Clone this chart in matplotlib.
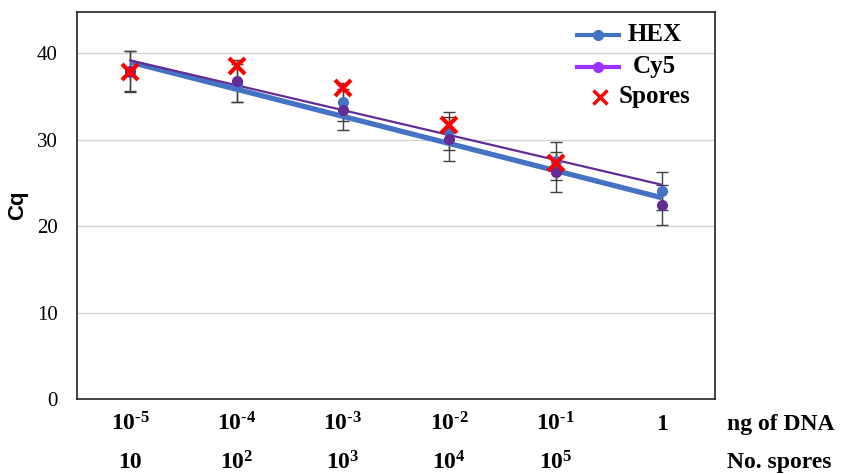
import matplotlib.pyplot as plt
from matplotlib.lines import Line2D

# data
x_pos = [1, 2, 3, 4, 5, 6]
dna_labels = [r'10$^{\text{-5}}$', r'10$^{\text{-4}}$', r'10$^{\text{-3}}$',
              r'10$^{\text{-2}}$', r'10$^{\text{-1}}$', '1']
spore_labels = ['10', '10$^{2}$', '10$^{3}$', '10$^{4}$', '10$^{5}$', '']

hex_cq = [37.9, 36.6, 34.4, 31.0, 27.5, 24.1]
hex_err = [2.4, 2.2, 2.2, 2.2, 2.2, 2.2]
cy5_cq = [38.0, 36.8, 33.5, 30.1, 26.3, 22.5]
cy5_err = [2.3, 2.4, 2.4, 2.6, 2.3, 2.3]
spores_x = [1, 2, 3, 4, 5]
spores_cq = [37.9, 38.5, 36.0, 31.7, 27.3]

# trend lines (end points)
trend_x = [1, 6]
hex_trend = [39.0, 23.3]
cy5_trend = [39.2, 24.8]

legend_names = ['HEX', 'Cy5', 'Spores']

hex_color = '#4472C4'
cy5_color = '#632C96'
cy5_legend = '#9B30FF'

plt.rcParams['font.family'] = ['Liberation Serif', 'DejaVu Serif']
plt.rcParams['mathtext.fontset'] = 'custom'
plt.rcParams['mathtext.rm'] = 'Liberation Serif:bold'
plt.rcParams['mathtext.it'] = 'Liberation Serif:bold'
plt.rcParams['mathtext.bf'] = 'Liberation Serif:bold'

fig = plt.figure(figsize=(8.42, 4.74), dpi=100)
ax = fig.add_axes([77 / 842, 75 / 474, 638 / 842, 387 / 474])

# error bars
ax.errorbar(x_pos, cy5_cq, yerr=cy5_err, fmt='none', ecolor='#404040',
            elinewidth=1, capsize=4, capthick=1, zorder=2)
ax.errorbar(x_pos, hex_cq, yerr=hex_err, fmt='none', ecolor='#404040',
            elinewidth=1, capsize=4, capthick=1, zorder=2)

# trend lines
ax.plot(trend_x, hex_trend, color=hex_color, linewidth=3.8, zorder=3,
        solid_capstyle='butt')
ax.plot(trend_x, cy5_trend, color=cy5_color, linewidth=1.6, zorder=3)

# data points
ax.plot(x_pos, hex_cq, 'o', color=hex_color, markersize=7, zorder=4)
ax.plot(x_pos, cy5_cq, 'o', color=cy5_color, markersize=7, zorder=4)
ax.plot(spores_x, spores_cq, 'x', color='red', markersize=11,
        markeredgewidth=3, zorder=5)

ax.set_xlim(0.5, 6.5)
ax.set_ylim(0, 44.8)
ax.set_yticks([0, 10, 20, 30, 40])
ax.set_xticks([])
ax.tick_params(axis='y', length=0, pad=14, labelsize=15)
ax.grid(True, axis='y', color='#d4d4d4', linewidth=1)
ax.set_axisbelow(True)
for s in ax.spines.values():
    s.set_linewidth(1.2)
    s.set_color('#222222')

ax.set_ylabel('Cq', fontsize=16, fontweight='bold', family=['Liberation Sans'],
              labelpad=6)

# two rows of x labels
tr = ax.get_xaxis_transform()
for x, lab in zip(x_pos, dna_labels):
    ax.text(x, -0.065, lab, transform=tr, ha='center', va='center',
            fontsize=17, fontweight='bold')
for x, lab in zip(x_pos, spore_labels):
    ax.text(x, -0.165, lab, transform=tr, ha='center', va='center',
            fontsize=17, fontweight='bold')
ax.text(1.019, -0.065, 'ng of DNA', transform=ax.transAxes, ha='left',
        va='center', fontsize=17, fontweight='bold')
ax.text(1.019, -0.165, 'No. spores', transform=ax.transAxes, ha='left',
        va='center', fontsize=17, fontweight='bold')

# legend drawn by hand: handles on the left, names centred
leg_y = [0.941, 0.858, 0.781]
handles = [
    Line2D([0.783, 0.850], [leg_y[0]] * 2, color=hex_color, linewidth=3),
    Line2D([0.783, 0.850], [leg_y[1]] * 2, color=cy5_legend, linewidth=3),
]
for h in handles:
    h.set_transform(ax.transAxes)
    ax.add_line(h)
ax.plot([0.817], [leg_y[0]], 'o', color=hex_color, markersize=7,
        transform=ax.transAxes)
ax.plot([0.817], [leg_y[1]], 'o', color=cy5_legend, markersize=7,
        transform=ax.transAxes)
ax.plot([0.820], [leg_y[2]], 'x', color='red', markersize=10,
        markeredgewidth=2.5, transform=ax.transAxes)
for name, y in zip(legend_names, leg_y):
    ax.text(0.905, y, name, transform=ax.transAxes, ha='center', va='center',
            fontsize=18, fontweight='bold')

fig.savefig('out.png', dpi=100)
